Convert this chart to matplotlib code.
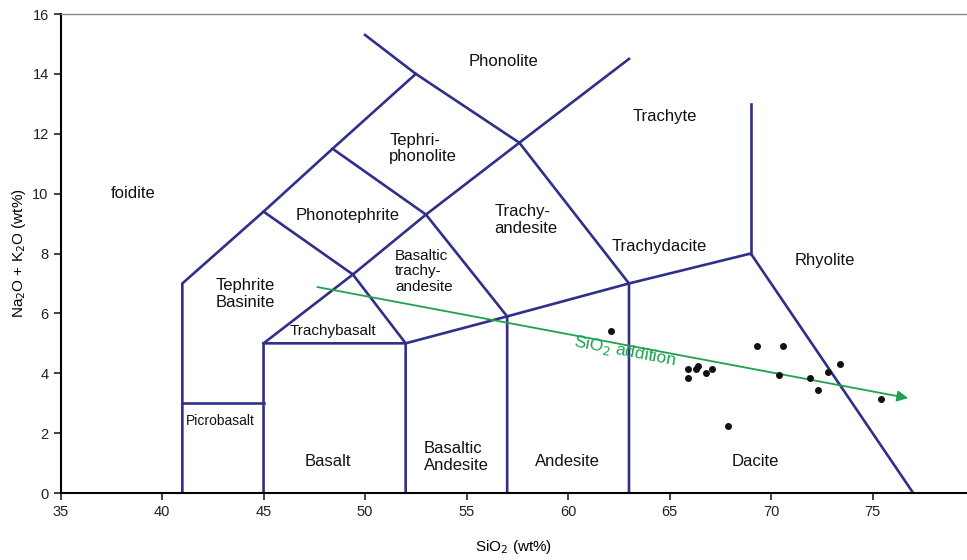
import numpy as np
import matplotlib
matplotlib.use("Agg")
import matplotlib.pyplot as plt
import matplotlib.ticker as ticker

plt.rcParams["font.family"] = ["Liberation Sans", "DejaVu Sans"]

# TAS field boundaries (SiO2, Na2O+K2O)
boundaries = [
    [(41, 0), (41, 7), (45, 9.4), (48.4, 11.5), (52.5, 14), (50, 15.3)],
    [(41, 3), (45, 3)],
    [(45, 0), (45, 5), (49.4, 7.3), (45, 9.4)],
    [(45, 5), (52, 5), (57, 5.9), (63, 7), (69, 8), (77, 0)],
    [(52, 0), (52, 5), (49.4, 7.3), (53, 9.3), (48.4, 11.5)],
    [(57, 0), (57, 5.9), (53, 9.3), (57.6, 11.7), (52.5, 14)],
    [(63, 0), (63, 7), (57.6, 11.7), (63, 14.5)],
    [(69, 8), (69, 13)],
]

# sample compositions
sio2 = [62.1, 69.3, 70.6, 73.4, 72.8, 65.9, 65.9, 66.3, 66.4, 66.8, 67.1,
        70.4, 71.9, 72.3, 75.4, 67.9]
alk = [5.4, 4.9, 4.9, 4.3, 4.05, 4.15, 3.85, 4.15, 4.25, 4.0, 4.15,
       3.95, 3.85, 3.45, 3.15, 2.25]

# field labels: text, x centre, y centre, size
field_labels = [
    ("Phonolite", 56.82, 14.43, 12),
    ("Trachyte", 64.78, 12.56, 12),
    ("Tephri-\nphonolite", 52.86, 11.5, 12),
    ("foidite", 38.57, 10.02, 12),
    ("Phonotephrite", 49.16, 9.28, 12),
    ("Trachy-\nandesite", 57.93, 9.12, 12),
    ("Basaltic\ntrachy-\nandesite", 52.9, 7.4, 11),
    ("Trachydacite", 64.49, 8.25, 12),
    ("Rhyolite", 72.66, 7.75, 12),
    ("Tephrite\nBasinite", 44.09, 6.65, 12),
    ("Trachybasalt", 48.42, 5.41, 11),
    ("Picrobasalt", 42.86, 2.4, 10),
    ("Basalt", 48.18, 1.04, 12),
    ("Basaltic\nAndesite", 54.49, 1.2, 12),
    ("Andesite", 59.95, 1.04, 12),
    ("Dacite", 69.21, 1.04, 12),
]

line_col = "#30308a"
green = "#1ea24e"

fig = plt.figure(figsize=(9.67, 5.6), dpi=100)
ax = fig.add_axes([0.0626, 0.1196, 0.9374, 0.8554])

for seg in boundaries:
    xs, ys = zip(*seg)
    ax.plot(xs, ys, color=line_col, lw=1.9, solid_joinstyle="miter", zorder=2)

for txt, x, y, fs in field_labels:
    ax.text(x, y, txt, fontsize=fs, ha="center", va="center",
            multialignment="left", linespacing=1.1, color="#111111", zorder=3)

ax.scatter(sio2, alk, s=16, color="#111111", zorder=4)

# SiO2 addition trend
ax.annotate("", xy=(76.75, 3.17), xytext=(47.65, 6.88),
            arrowprops=dict(arrowstyle="-|>", color=green, lw=1.3,
                            mutation_scale=16, shrinkA=0, shrinkB=0),
            zorder=3)
ax.text(62.8, 4.75, "SiO$_2$ addition", color=green, fontsize=12.5,
        rotation=-10.6, rotation_mode="anchor", ha="center", va="center")

ax.set_xlim(35, 79.65)
ax.set_ylim(0, 16)
ax.xaxis.set_major_locator(ticker.FixedLocator([35, 40, 45, 50, 55, 60, 65, 70, 75]))
ax.yaxis.set_major_locator(ticker.MultipleLocator(2))
ax.tick_params(direction="out", length=5, width=1.2, labelsize=10.5, colors="#222222")

ax.spines["right"].set_visible(False)
ax.spines["top"].set_color("#888888")
ax.spines["top"].set_linewidth(1.0)
ax.spines["left"].set_linewidth(1.5)
ax.spines["bottom"].set_linewidth(1.5)

ax.set_xlabel("SiO$_2$ (wt%)", fontsize=11, labelpad=14)
ax.set_ylabel("Na$_2$O + K$_2$O (wt%)", fontsize=11, labelpad=3)

fig.savefig("out.png", dpi=100)
